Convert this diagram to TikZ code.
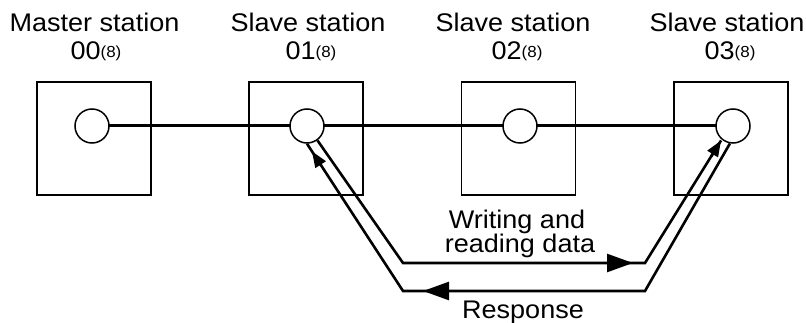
\documentclass[tikz,border=0pt]{standalone}
\usepackage{fontspec}
\setmainfont{Liberation Sans}[FakeStretch=1.06]
\usetikzlibrary{arrows.meta,calc}
\newcommand{\octal}{\raisebox{2pt}{\fontsize{16}{16}\selectfont(8)}}
\begin{document}
\begin{tikzpicture}[x=1pt,y=-1pt,
  lbl/.style={anchor=base,inner sep=0pt,font=\fontsize{25.5}{28}\selectfont},
  stbox/.style={draw,line width=1.5pt,minimum width=114pt,minimum height=113pt,inner sep=0pt},
  port/.style={circle,draw,fill=white,line width=1.5pt,minimum size=34pt,inner sep=0pt},
  bus/.style={line width=3pt},
  flow/.style={line width=2.6pt,line join=miter},
  bighead/.style={-{Triangle[length=26pt,width=18pt]},line width=2.6pt},
  smallhead/.style={-{Triangle[length=16pt,width=12pt]},line width=2.6pt}]
\useasboundingbox (0,0) rectangle (806,323);
% boxes
\node[stbox] (b0) at (94,138.5) {};
\node[stbox] (b1) at (306,138.5) {};
\node[stbox] (b2) at (518.5,138.5) {};
\node[stbox] (b3) at (731,138.5) {};
% bus
\coordinate (p0) at (92,126);
\coordinate (p1) at (307,126);
\coordinate (p2) at (520,126);
\coordinate (p3) at (733,126);
\draw[bus] (p0) -- (p3);
\node[port] (c0) at (p0) {};
\node[port] (c1) at (p1) {};
\node[port] (c2) at (p2) {};
\node[port] (c3) at (p3) {};
% labels
\node[lbl] (t0a) at (94.5,32) {Master station};
\node[lbl] (t0b) at (96,60) {00\octal};
\node[lbl] (t1a) at (308,32) {Slave station};
\node[lbl] (t1b) at (311,60) {01\octal};
\node[lbl] (t2a) at (513,32) {Slave station};
\node[lbl] (t2b) at (517,60) {02\octal};
\node[lbl] (t3a) at (727,32) {Slave station};
\node[lbl] (t3b) at (730,60) {03\octal};
% writing path
\coordinate (w1) at (403,263);
\coordinate (w2) at (645,263);
\coordinate (wm) at (607,263);
\coordinate (wt) at (633,263);
\draw[flow] (c1.-54) -- (w1) -- (w2) -- ($(c3.-130)!1pt!(w2)$);
\draw[bighead] (wm) -- (wt);
\draw[smallhead] ($(c3.-130)!20pt!(w2)$) -- ($(c3.-130)!1pt!(w2)$);
% response path
\coordinate (r1) at (645,291);
\coordinate (r2) at (403,291);
\coordinate (rm) at (450,291);
\coordinate (rt) at (423,291);
\draw[flow] (c3.-100) -- (r1) -- (r2) -- (c1.-90);
\draw[bighead] (rm) -- (rt);
\draw[smallhead] ($(c1.-90)!26pt!(r2)$) -- ($(c1.-90)!9pt!(r2)$);
% texts
\node[lbl] (wa) at (517,229) {Writing and};
\node[lbl] (wb) at (520,253) {reading data};
\node[lbl] (rs) at (523,318) {Response};
\end{tikzpicture}
\end{document}
